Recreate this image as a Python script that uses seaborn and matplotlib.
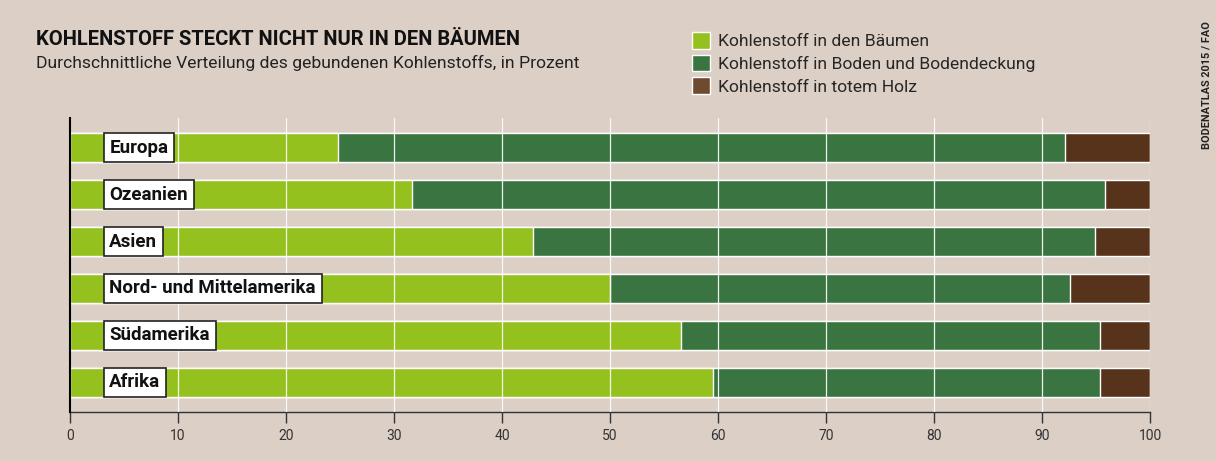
import numpy as np
import pandas as pd
import seaborn as sns
import matplotlib.pyplot as plt
from matplotlib.patches import Patch

regions = ['Europa', 'Ozeanien', 'Asien', 'Nord- und Mittelamerika', 'Südamerika', 'Afrika']
trees = [24.8, 31.7, 42.9, 50.0, 56.6, 59.5]
soil = [67.3, 64.1, 52.0, 42.6, 38.8, 35.9]
deadwood = [7.9, 4.2, 5.1, 7.4, 4.6, 4.6]
legend_labels = ['Kohlenstoff in den Bäumen', 'Kohlenstoff in Boden und Bodendeckung', 'Kohlenstoff in totem Holz']

bg = '#dccfc6'
c_tree = '#95c11f'
c_soil = '#3a7541'
c_dead = '#57331b'

sns.set_style('white')
plt.rcParams['font.family'] = ['Roboto', 'DejaVu Sans']

df = pd.DataFrame({'region': regions, 'trees': trees, 'soil': soil, 'dead': deadwood})
df['cum2'] = df['trees'] + df['soil']
df['cum3'] = df['cum2'] + df['dead']

fig = plt.figure(figsize=(12.16, 4.61), dpi=100, facecolor=bg)
ax = fig.add_axes([70 / 1216, 49 / 461, 1080 / 1216, 294 / 461])
ax.set_facecolor(bg)

# stacked bars: draw totals first, then overlay the inner parts
sns.barplot(data=df, x='cum3', y='region', color=c_dead, width=0.62, saturation=1, ax=ax, zorder=2)
sns.barplot(data=df, x='cum2', y='region', color=c_soil, width=0.62, saturation=1, ax=ax, zorder=2)
sns.barplot(data=df, x='trees', y='region', color=c_tree, width=0.62, saturation=1, ax=ax, zorder=2)

ax.set_xlim(0, 100)
ax.set_ylim(5.63, -0.63)
ax.set_xticks(range(0, 101, 10))
for v in range(10, 101, 10):
    ax.axvline(v, color='white', lw=0.9, alpha=0.9, zorder=3)
ax.set_yticks([])
ax.set_xlabel('')
ax.set_ylabel('')
ax.tick_params(axis='x', bottom=True, length=8, width=1, color='#333333', labelsize=10, labelcolor='#333333', pad=4)
for s in ['top', 'right']:
    ax.spines[s].set_visible(False)
ax.spines['left'].set_color('black')
ax.spines['left'].set_linewidth(1.5)
ax.spines['left'].set_zorder(5)
ax.spines['bottom'].set_color('#333333')
ax.spines['bottom'].set_linewidth(1)

for i, r in enumerate(regions):
    ax.text(3.65, i, r, ha='left', va='center', fontsize=13.5, fontweight='bold', color='#111111', zorder=6,
            bbox=dict(boxstyle='square,pad=0.3', facecolor='white', edgecolor='#222222', linewidth=1.2))

fig.text(36 / 1216, 1 - 39 / 461, 'KOHLENSTOFF STECKT NICHT NUR IN DEN BÄUMEN', fontsize=14.5,
         fontweight='bold', color='#111111', va='center', ha='left')
fig.text(36 / 1216, 1 - 63 / 461, 'Durchschnittliche Verteilung des gebundenen Kohlenstoffs, in Prozent',
         fontsize=12.6, color='#222222', va='center', ha='left')

handles = [Patch(facecolor=c_tree), Patch(facecolor=c_soil), Patch(facecolor='#6e4a31')]
fig.legend(handles, legend_labels, loc='upper left', bbox_to_anchor=(685 / 1216, 1 - 25 / 461),
           frameon=False, fontsize=12.6, handlelength=1.0, handleheight=1.1, handletextpad=0.5,
           labelspacing=0.3, borderaxespad=0)

fig.text(1207 / 1216, 1 - 85 / 461, 'BODENATLAS 2015 / FAO', rotation=90, fontsize=7.8,
         fontweight='bold', color='#222222', va='center', ha='center')

fig.savefig('out.png', dpi=100, facecolor=bg)
